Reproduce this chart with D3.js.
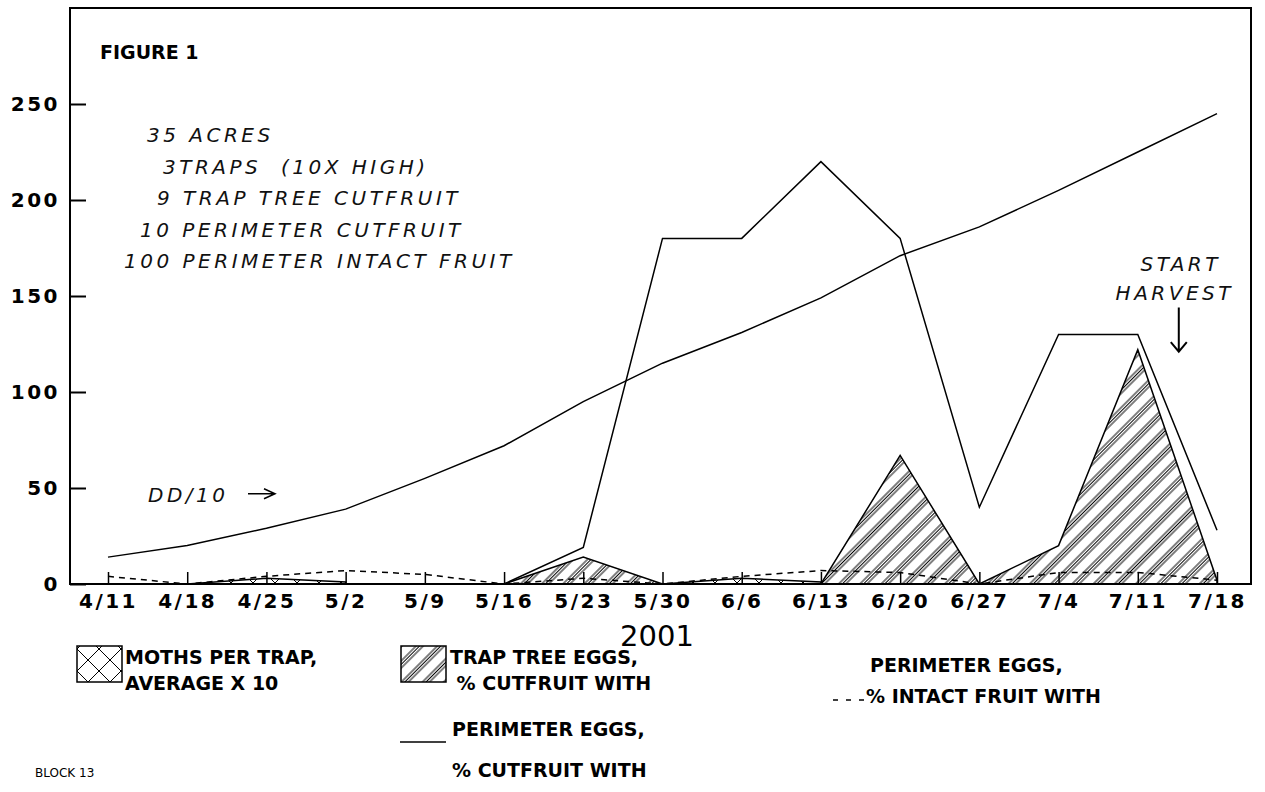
<!DOCTYPE html>
<html>
<head>
<meta charset="utf-8">
<script src="https://cdn.jsdelivr.net/npm/d3@7"></script>
<style>
  body { margin: 0; background: #fff; }
  svg { display: block; }
  .tick text { font-family: "DejaVu Sans", sans-serif; font-weight: bold; font-size: 20px; letter-spacing: 2.5px; fill: #000; }
  .note { font-family: "DejaVu Sans", sans-serif; font-style: italic; font-size: 20px; letter-spacing: 3.5px; fill: #111; white-space: pre; }
  .leg { font-family: "DejaVu Sans", sans-serif; font-weight: bold; font-size: 19px; fill: #000; white-space: pre; }
</style>
</head>
<body>
<svg id="canvas" width="1265" height="792"></svg>
<script>
// figure 1, block 13 - moth and egg counts, 2001
var dates = ['4/11', '4/18', '4/25', '5/2', '5/9', '5/16', '5/23', '5/30', '6/6', '6/13', '6/20', '6/27', '7/4', '7/11', '7/18']
var degreeDays = [14, 20, 29, 39, 55, 72, 95, 115, 131, 149, 171, 186, 205, 225, 245]
var perimeterCut = [0, 0, 0, 0, 0, 0, 19, 180, 180, 220, 180, 40, 130, 130, 28]
var trapTreeEggs = [null, null, null, null, null, 0, 14, 0, 0, 0, 67, 0, 20, 122, 2]
var perimeterIntact = [4, 0, 4, 7, 5, 0, 3, 0, 4, 7, 6, 0, 6, 6, 2]
var moths = [null, 0, 3, 1, null, null, null, 0, 3, 1, null, null, null, null, null]
var yTicks = [0, 50, 100, 150, 200, 250]
var notes = ['35 ACRES', '3TRAPS  (10X HIGH)', '9 TRAP TREE CUTFRUIT', '10 PERIMETER CUTFRUIT', '100 PERIMETER INTACT FRUIT']
var noteIndent = [23, 39, 33, 16, 0]

;(function (d3) {
  'use strict'
  var plotLeft = 70
  var plotRight = 1251
  var plotTop = 8
  var plotBottom = 584

  var svg = d3.select('#canvas')

  var x = d3.scalePoint().domain(dates).range([108, 1217])
  var y = d3.scaleLinear().domain([0, 300]).range([plotBottom, plotTop])

  var defs = svg.append('defs')

  var cross = defs.append('pattern')
    .attr('id', 'cross')
    .attr('patternUnits', 'userSpaceOnUse')
    .attr('width', 22)
    .attr('height', 22)
  cross.append('path')
    .attr('d', 'M0,0L22,22M0,22L22,0')
    .attr('stroke', '#000')
    .attr('stroke-width', 1)

  // groups of three thin "/" lines
  var hatch = defs.append('pattern')
    .attr('id', 'hatch')
    .attr('patternUnits', 'userSpaceOnUse')
    .attr('width', 15)
    .attr('height', 15)
    .attr('patternTransform', 'rotate(45)')
  hatch.selectAll('line').data([1, 3.5, 6]).enter().append('line')
    .attr('x1', function (d) { return d })
    .attr('x2', function (d) { return d })
    .attr('y1', 0)
    .attr('y2', 15)
    .attr('stroke', '#000')
    .attr('stroke-width', 1)

  function rows (values) {
    return dates.map(function (d, i) { return { date: d, v: values[i] } })
  }

  var area = d3.area()
    .defined(function (d) { return d.v !== null })
    .x(function (d) { return x(d.date) })
    .y0(y(0))
    .y1(function (d) { return y(d.v) })

  var line = d3.line()
    .defined(function (d) { return d.v !== null })
    .x(function (d) { return x(d.date) })
    .y(function (d) { return y(d.v) })

  // axes, ticks point into the plot
  svg.append('g')
    .attr('transform', 'translate(' + plotLeft + ',0)')
    .call(d3.axisLeft(y).tickValues(yTicks).tickSize(-16).tickPadding(10))
    .call(function (g) { g.select('.domain').remove() })
    .selectAll('line').attr('stroke-width', 2)

  svg.append('g')
    .attr('transform', 'translate(0,' + plotBottom + ')')
    .call(d3.axisBottom(x).tickSize(-12).tickPadding(10))
    .call(function (g) { g.select('.domain').remove() })
    .selectAll('line').attr('stroke-width', 1.5)

  svg.selectAll('.tick text').attr('font-family', null).attr('font-size', null)

  // series
  svg.append('path')
    .datum(rows(moths))
    .attr('d', area)
    .attr('fill', 'url(#cross)')
    .attr('stroke', '#000')
    .attr('stroke-width', 1.5)

  svg.append('path')
    .datum(rows(trapTreeEggs))
    .attr('d', area)
    .attr('fill', 'url(#hatch)')
    .attr('stroke', '#000')
    .attr('stroke-width', 1.5)

  svg.append('path')
    .datum(rows(perimeterIntact))
    .attr('d', line)
    .attr('fill', 'none')
    .attr('stroke', '#000')
    .attr('stroke-width', 1.5)
    .attr('stroke-dasharray', '6,5')

  svg.append('path')
    .datum(rows(perimeterCut))
    .attr('d', line)
    .attr('fill', 'none')
    .attr('stroke', '#000')
    .attr('stroke-width', 1.5)

  svg.append('path')
    .datum(rows(degreeDays))
    .attr('d', line)
    .attr('fill', 'none')
    .attr('stroke', '#000')
    .attr('stroke-width', 1.5)

  // frame
  svg.append('rect')
    .attr('x', plotLeft)
    .attr('y', plotTop)
    .attr('width', plotRight - plotLeft)
    .attr('height', plotBottom - plotTop)
    .attr('fill', 'none')
    .attr('stroke', '#000')
    .attr('stroke-width', 2)

  // texts inside the plot
  svg.append('text')
    .attr('class', 'leg')
    .attr('x', 100)
    .attr('y', 59)
    .text('FIGURE 1')

  svg.selectAll('.note-line').data(notes).enter().append('text')
    .attr('class', 'note')
    .attr('x', function (d, i) { return 124 + noteIndent[i] })
    .attr('y', function (d, i) { return 142 + i * 31.5 })
    .text(function (d) { return d })

  var x0 = x('4/11')
  var ddY = y(47)
  svg.append('text')
    .attr('class', 'note')
    .attr('x', x0 + 40)
    .attr('y', ddY + 8)
    .text('DD/10')
  svg.append('path')
    .attr('d', 'M' + (x0 + 140) + ',' + ddY + 'H' + (x0 + 167) +
      'M' + (x0 + 156) + ',' + (ddY - 5) + 'L' + (x0 + 167) + ',' + ddY +
      'L' + (x0 + 156) + ',' + (ddY + 5))
    .attr('fill', 'none')
    .attr('stroke', '#000')
    .attr('stroke-width', 1.5)

  var hx = x('7/11') + 41
  svg.append('text')
    .attr('class', 'note')
    .attr('x', hx + 2)
    .attr('y', 271)
    .attr('text-anchor', 'middle')
    .text('START')
  svg.append('text')
    .attr('class', 'note')
    .attr('x', hx - 4)
    .attr('y', 300)
    .attr('text-anchor', 'middle')
    .text('HARVEST')
  svg.append('path')
    .attr('d', 'M' + hx + ',' + y(144) + 'V' + y(121) +
      'M' + (hx - 8) + ',' + y(126) + 'L' + hx + ',' + y(121) + 'L' + (hx + 8) + ',' + y(126))
    .attr('fill', 'none')
    .attr('stroke', '#000')
    .attr('stroke-width', 2)

  // x title
  svg.append('text')
    .attr('x', 657)
    .attr('y', 646)
    .attr('text-anchor', 'middle')
    .attr('font-family', 'DejaVu Sans, sans-serif')
    .attr('font-size', 29)
    .text('2001')

  // legend
  svg.append('rect')
    .attr('x', 77).attr('y', 646).attr('width', 45).attr('height', 36)
    .attr('fill', 'url(#cross)').attr('stroke', '#000').attr('stroke-width', 1.5)
  svg.append('rect')
    .attr('x', 401).attr('y', 646).attr('width', 45).attr('height', 36)
    .attr('fill', 'url(#hatch)').attr('stroke', '#000').attr('stroke-width', 1.5)
  svg.append('path')
    .attr('d', 'M833,700H868')
    .attr('stroke', '#000').attr('stroke-width', 1.5).attr('stroke-dasharray', '5,8')
  svg.append('path')
    .attr('d', 'M400,742H446')
    .attr('stroke', '#000').attr('stroke-width', 1.5)

  var legendText = [
    ['MOTHS PER TRAP,', 125, 664], ['AVERAGE X 10', 125, 690],
    ['TRAP TREE EGGS,', 450, 664], [' % CUTFRUIT WITH', 450, 690],
    ['PERIMETER EGGS,', 870, 672], ['% INTACT FRUIT WITH', 866, 703],
    ['PERIMETER EGGS,', 452, 736], ['% CUTFRUIT WITH', 452, 777]
  ]
  svg.selectAll('.leg-text').data(legendText).enter().append('text')
    .attr('class', 'leg')
    .attr('x', function (d) { return d[1] })
    .attr('y', function (d) { return d[2] })
    .text(function (d) { return d[0] })

  svg.append('text')
    .attr('x', 35)
    .attr('y', 777)
    .attr('font-family', 'DejaVu Sans, sans-serif')
    .attr('font-size', 12)
    .text('BLOCK 13')
})(d3)
</script>
</body>
</html>
